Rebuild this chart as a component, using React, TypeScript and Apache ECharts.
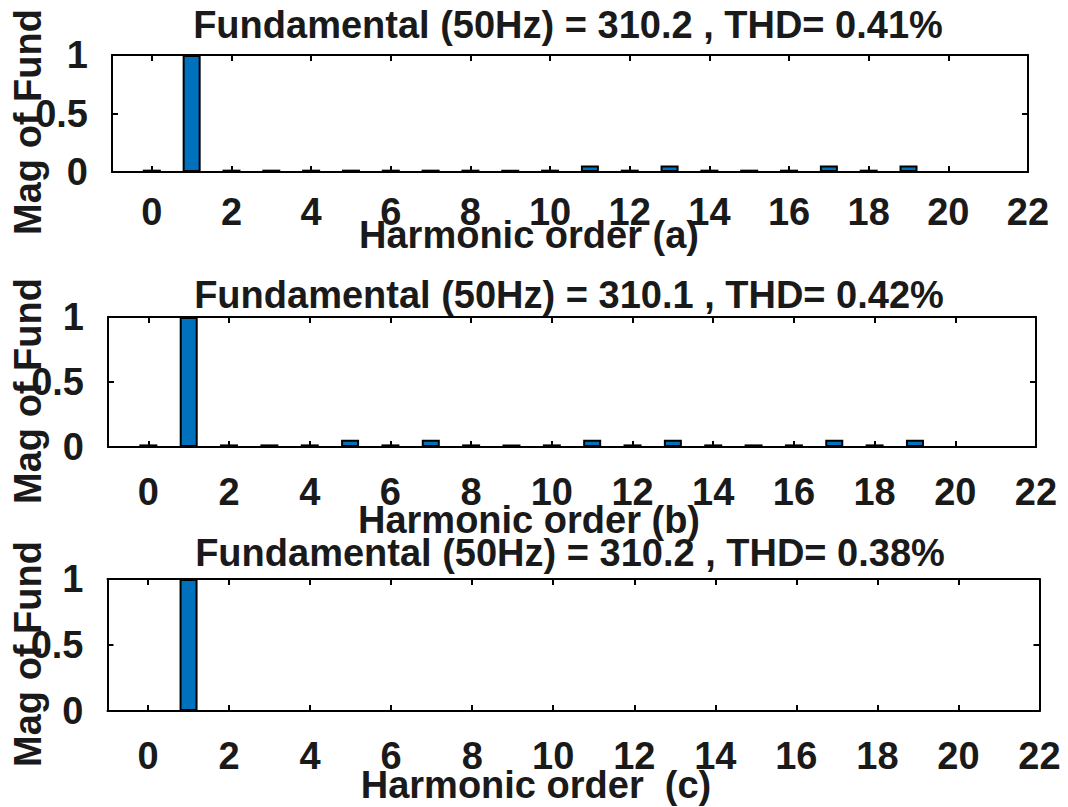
import React, { useEffect, useRef } from "react";
import * as echarts from "echarts";

// ---- data ----
const harmonics = [0, 1, 2, 3, 4, 5, 6, 7, 8, 9, 10, 11, 12, 13, 14, 15, 16, 17, 18, 19, 20];
const magA = [0.02, 1, 0.02, 0.02, 0.02, 0.02, 0.02, 0.02, 0.02, 0.02, 0.02, 0.055, 0.02, 0.055, 0.02, 0.02, 0.02, 0.055, 0.02, 0.055, 0];
const magB = [0.02, 1, 0.02, 0.02, 0.02, 0.055, 0.02, 0.055, 0.02, 0.02, 0.02, 0.055, 0.02, 0.055, 0.02, 0.02, 0.02, 0.055, 0.02, 0.055, 0];
const magC = [0, 1, 0, 0, 0, 0, 0, 0, 0, 0, 0, 0, 0, 0, 0, 0, 0, 0, 0, 0, 0];
const titles = [
  "Fundamental (50Hz) = 310.2 , THD= 0.41%",
  "Fundamental (50Hz) = 310.1 , THD= 0.42%",
  "Fundamental (50Hz) = 310.2 , THD= 0.38%",
];
const xNames = ["Harmonic order (a)", "Harmonic order (b)", "Harmonic order  (c)"];
const yName = "Mag of Fund";
const xTickValues = [0, 2, 4, 6, 8, 10, 12, 14, 16, 18, 20, 22];
const yTickValues = [0, 0.5, 1];
const xMin = -1;
const xMax = 22;

// ---- layout ----
const grids = [
  { left: 112, top: 55, width: 916, height: 117, labelMargin: 21 },
  { left: 108, top: 317, width: 928, height: 130, labelMargin: 26 },
  { left: 107.5, top: 579, width: 932, height: 132, labelMargin: 26 },
];
const titlePos = [
  { x: 568, y: 25 },
  { x: 569, y: 295 },
  { x: 570, y: 553 },
];
const xNamePos = [
  { x: 529, y: 235 },
  { x: 529, y: 520 },
  { x: 536, y: 785 },
];
const yNamePos = [
  { x: 28, y: 122 },
  { x: 28, y: 391 },
  { x: 28, y: 654 },
];

const FONT = '"Liberation Sans", Arial, Helvetica, sans-serif';
const TXT = "#1a1a1a";
const FS = 38;

export default function App() {
  const ref = useRef<HTMLDivElement>(null);
  useEffect(() => {
    if (!ref.current) return;
    const chart = echarts.init(ref.current, undefined, { renderer: "svg" });
    const series = [magA, magB, magC];

    const xAxes: any[] = [];
    const yAxes: any[] = [];
    grids.forEach((g, i) => {
      const line = { show: true, onZero: false, lineStyle: { color: "#000", width: 2 } };
      xAxes.push({
        type: "value",
        gridIndex: i,
        position: "bottom",
        min: xMin,
        max: xMax,
        axisLine: line,
        axisTick: { show: true, inside: true, length: 6, customValues: xTickValues, lineStyle: { color: "#000", width: 2 } },
        axisLabel: {
          show: true,
          customValues: xTickValues,
          margin: g.labelMargin,
          fontSize: FS,
          fontWeight: "bold",
          fontFamily: FONT,
          color: TXT,
        },
        splitLine: { show: false },
      });
      xAxes.push({
        type: "value",
        gridIndex: i,
        position: "top",
        min: xMin,
        max: xMax,
        axisLine: line,
        axisTick: { show: true, inside: true, length: 6, customValues: xTickValues, lineStyle: { color: "#000", width: 2 } },
        axisLabel: { show: false },
        splitLine: { show: false },
      });
      yAxes.push({
        type: "value",
        gridIndex: i,
        position: "left",
        min: 0,
        max: 1,
        interval: 0.5,
        axisLine: line,
        axisTick: { show: true, inside: true, length: 6, customValues: yTickValues, lineStyle: { color: "#000", width: 2 } },
        axisLabel: {
          show: true,
          customValues: yTickValues,
          margin: 24,
          fontSize: FS,
          fontWeight: "bold",
          fontFamily: FONT,
          color: TXT,
        },
        splitLine: { show: false },
      });
      yAxes.push({
        type: "value",
        gridIndex: i,
        position: "right",
        min: 0,
        max: 1,
        interval: 0.5,
        axisLine: line,
        axisTick: { show: true, inside: true, length: 6, customValues: yTickValues, lineStyle: { color: "#000", width: 2 } },
        axisLabel: { show: false },
        splitLine: { show: false },
      });
    });

    const graphic: any[] = [];
    const textStyle = (text: string) => ({
      text,
      font: `bold ${FS}px ${FONT}`,
      fill: TXT,
      textAlign: "center",
      textVerticalAlign: "middle",
    });
    titles.forEach((t, i) => {
      graphic.push({ type: "text", x: titlePos[i].x, y: titlePos[i].y, style: textStyle(t), z: 10 });
    });
    xNames.forEach((t, i) => {
      graphic.push({ type: "text", x: xNamePos[i].x, y: xNamePos[i].y, style: textStyle(t), z: 10 });
    });
    yNamePos.forEach((p) => {
      graphic.push({ type: "text", x: p.x, y: p.y, rotation: Math.PI / 2, style: textStyle(yName), z: 10 });
    });

    chart.setOption({
      animation: false,
      backgroundColor: "#ffffff",
      grid: grids.map((g) => ({ left: g.left, top: g.top, width: g.width, height: g.height, containLabel: false })),
      xAxis: xAxes,
      yAxis: yAxes,
      series: series.map((vals, i) => ({
        type: "bar",
        xAxisIndex: i * 2,
        yAxisIndex: i * 2,
        barWidth: 18,
        data: harmonics.map((h, k) => [h, vals[k]]),
        itemStyle: { color: "#0072BD", borderColor: "#000", borderWidth: 2 },
        z: 1,
      })),
      graphic,
    });
    return () => chart.dispose();
  }, []);
  return (
    <div
      ref={ref}
      style={{ position: "fixed", left: 0, top: 0, width: 1068, height: 807, background: "#fff" }}
    />
  );
}
